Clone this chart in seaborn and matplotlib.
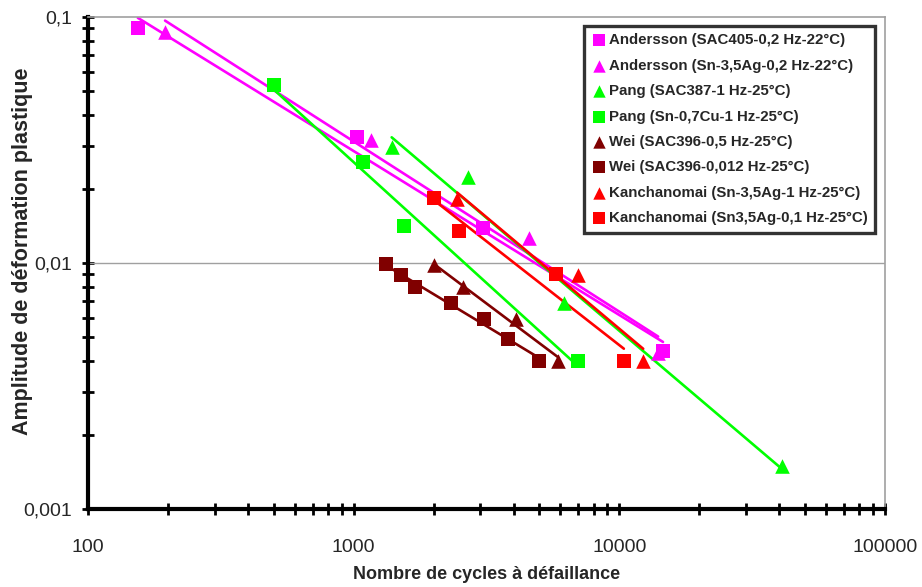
import numpy as np
import pandas as pd
import matplotlib
matplotlib.use("Agg")
import matplotlib.pyplot as plt
from matplotlib.ticker import LogLocator, NullFormatter, FixedLocator, FixedFormatter
import seaborn as sns

# Data (N cycles, plastic strain amplitude)
andersson_sac405_n = [154, 1030, 3070, 14600]
andersson_sac405_eps = [0.090, 0.0325, 0.0139, 0.0044]

andersson_snag_n = [195, 1160, 4570, 14000]
andersson_snag_eps = [0.087, 0.0316, 0.0126, 0.0043]

pang_sac387_n = [1390, 2690, 6190, 41000]
pang_sac387_eps = [0.0296, 0.0224, 0.0069, 0.0015]

pang_sncu_n = [500, 1080, 1550, 7000]
pang_sncu_eps = [0.053, 0.0257, 0.0141, 0.0040]

wei_05hz_n = [2000, 2580, 4080, 5870]
wei_05hz_eps = [0.0098, 0.0080, 0.0059, 0.0040]

wei_0012hz_n = [1320, 1510, 1700, 2320, 3090, 3810, 4980]
wei_0012hz_eps = [0.0099, 0.0089, 0.0080, 0.0069, 0.0059, 0.0049, 0.0040]

kanch_1hz_n = [2450, 6990, 12300]
kanch_1hz_eps = [0.0182, 0.0089, 0.0040]

kanch_01hz_n = [2000, 2490, 5770, 10400]
kanch_01hz_eps = [0.0184, 0.0135, 0.0090, 0.0040]

labels = [
    "Andersson (SAC405-0,2 Hz-22°C)",
    "Andersson (Sn-3,5Ag-0,2 Hz-22°C)",
    "Pang (SAC387-1 Hz-25°C)",
    "Pang (Sn-0,7Cu-1 Hz-25°C)",
    "Wei (SAC396-0,5 Hz-25°C)",
    "Wei (SAC396-0,012 Hz-25°C)",
    "Kanchanomai (Sn-3,5Ag-1 Hz-25°C)",
    "Kanchanomai (Sn3,5Ag-0,1 Hz-25°C)",
]
series_n = [andersson_sac405_n, andersson_snag_n, pang_sac387_n, pang_sncu_n,
            wei_05hz_n, wei_0012hz_n, kanch_1hz_n, kanch_01hz_n]
series_eps = [andersson_sac405_eps, andersson_snag_eps, pang_sac387_eps, pang_sncu_eps,
              wei_05hz_eps, wei_0012hz_eps, kanch_1hz_eps, kanch_01hz_eps]
colors = ["#FF00FF", "#FF00FF", "#00FF00", "#00FF00",
          "#800000", "#800000", "#FF0000", "#FF0000"]
markers = ["s", "^", "^", "s", "^", "s", "^", "s"]

sns.set_style("white")
plt.rcParams["font.family"] = ["Liberation Sans", "DejaVu Sans"]

fig = plt.figure(figsize=(9.22, 5.87), dpi=100)
ax = fig.add_axes([88 / 922, 1 - 509 / 587, (885 - 88) / 922, (509 - 17) / 587])

for lab, n, eps, col, mk in zip(labels, series_n, series_eps, colors, markers):
    df = pd.DataFrame({"N": n, "eps": eps})
    # power-law trend line (least squares in log-log)
    b, a = np.polyfit(np.log10(df["N"]), np.log10(df["eps"]), 1)
    xs = np.array([df["N"].min(), df["N"].max()])
    ax.plot(xs, 10 ** (a + b * np.log10(xs)), color=col, lw=1.9, zorder=2)
    sns.scatterplot(data=df, x="N", y="eps", ax=ax, color=col, marker=mk,
                    s=110 if mk == "^" else 95, linewidth=0, label=lab, zorder=3)

ax.set_xscale("log")
ax.set_yscale("log")
ax.set_xlim(100, 100000)
ax.set_ylim(0.001, 0.1)

ax.xaxis.set_major_locator(FixedLocator([100, 1000, 10000, 100000]))
ax.xaxis.set_major_formatter(FixedFormatter(["100", "1000", "10000", "100000"]))
ax.yaxis.set_major_locator(FixedLocator([0.001, 0.01, 0.1]))
ax.yaxis.set_major_formatter(FixedFormatter(["0,001", "0,01", "0,1"]))
ax.xaxis.set_minor_locator(LogLocator(base=10, subs=np.arange(2, 10)))
ax.yaxis.set_minor_locator(LogLocator(base=10, subs=np.arange(2, 10)))
ax.xaxis.set_minor_formatter(NullFormatter())
ax.yaxis.set_minor_formatter(NullFormatter())

ax.tick_params(which="both", direction="inout", length=9, width=2, color="black",
               bottom=True, left=True, top=False, right=False)
ax.tick_params(axis="x", which="major", labelsize=14, pad=17)
ax.tick_params(axis="y", which="major", labelsize=14, pad=7)

ax.grid(False)
ax.axhline(0.01, color="#a0a0a0", lw=1, zorder=1)
for side in ["left", "bottom"]:
    ax.spines[side].set_color("black")
    ax.spines[side].set_linewidth(3)
for side in ["top", "right"]:
    ax.spines[side].set_color("#a0a0a0")
    ax.spines[side].set_linewidth(1.2)

ax.set_xlabel("Nombre de cycles à défaillance", fontsize=13, fontweight="bold")
ax.set_ylabel("Amplitude de déformation plastique", fontsize=15.5, fontweight="bold")
ax.xaxis.set_label_coords(0.5, -0.115)
ax.yaxis.set_label_coords(-0.069, 0.524)

leg = ax.legend(loc="upper right", bbox_to_anchor=(0.988, 0.982), borderaxespad=0,
                frameon=True, fancybox=False, edgecolor="black",
                prop={"weight": "bold", "size": 10.8}, handlelength=0.9,
                handletextpad=0.25, labelspacing=0.76, markerscale=0.85,
                borderpad=0.5)
leg.get_frame().set_linewidth(2.4)

fig.savefig("out.png", dpi=100)
